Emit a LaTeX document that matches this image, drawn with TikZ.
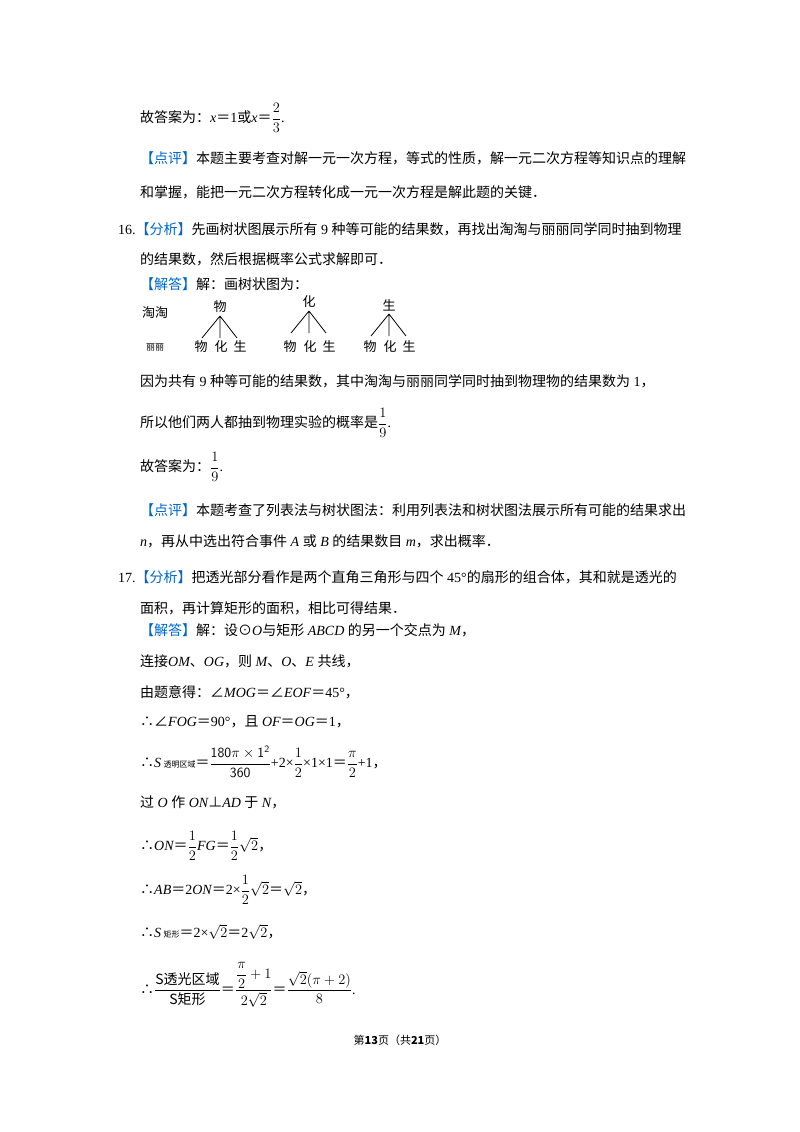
\documentclass[tikz,border=0pt]{standalone}
\usepackage{amsmath}
\usepackage{fontspec}
\setmainfont{Noto Sans CJK SC}
\newfontfamily\ser{Liberation Serif}
\newcommand{\mi}[1]{{\ser\itshape #1}}
\newcommand{\mr}[1]{{\ser #1}}
\definecolor{hb}{RGB}{0,102,204}
\newcommand{\hb}[1]{\textcolor{hb}{【#1】}}
\begin{document}
\begin{tikzpicture}[x=1pt,y=-1pt,
  txt/.style={anchor=west,inner sep=0pt,font=\fontsize{14}{16}\selectfont},
  tw/.style={inner sep=0pt,font=\fontsize{13}{15}\selectfont},
  br/.style={line width=0.8pt}]
\useasboundingbox (0,0) rectangle (800,1132);
\node[txt] (a1) at (140,118) {故答案为：\mi{x}＝\mr{1}或\mi{x}＝$\dfrac{2}{3}$\mr{.}};
\node[txt] (a2) at (140,158) {\hb{点评}本题主要考查对解一元一次方程，等式的性质，解一元二次方程等知识点的理解};
\node[txt] (a3) at (140,192) {和掌握，能把一元二次方程转化成一元一次方程是解此题的关键．};
\node[txt] (a4) at (118,229) {\mr{16.}\hb{分析}先画树状图展示所有\mr{ 9 }种等可能的结果数，再找出淘淘与丽丽同学同时抽到物理};
\node[txt] (a5) at (140,259) {的结果数，然后根据概率公式求解即可．};
\node[txt] (a6) at (140,284) {\hb{解答}解：画树状图为：};
\node[tw] (tt) at (155,313) {淘淘};
\node[tw,font=\fontsize{9}{10}\selectfont] (ll) at (155,347) {丽丽};
\foreach \r/\x/\y in {p/220/307,h/309/302,s/389/305}{
  \node[tw] (\r) at (\x,\y) {};
  \node[tw] (\r a) at (\x-19,347) {物};
  \node[tw] (\r b) at (\x+1,347) {化};
  \node[tw] (\r c) at (\x+20,346) {生};
  \draw[br] (\x,\y+9) -- (\x-18,\y+31) (\x,\y+9) -- (\x,\y+31) (\x,\y+9) -- (\x+17,\y+31);
}
\node[tw] at (p) {物};\node[tw] at (h) {化};\node[tw] at (s) {生};
\node[txt] (b1) at (140,381) {因为共有\mr{ 9 }种等可能的结果数，其中淘淘与丽丽同学同时抽到物理物的结果数为\mr{ 1}，};
\node[txt] (b2) at (140,423) {所以他们两人都抽到物理实验的概率是$\dfrac{1}{9}$\mr{.}};
\node[txt] (b3) at (140,467) {故答案为：$\dfrac{1}{9}$\mr{.}};
\node[txt] (b4) at (140,510) {\hb{点评}本题考查了列表法与树状图法：利用列表法和树状图法展示所有可能的结果求出};
\node[txt] (b5) at (140,541) {\mi{n}，再从中选出符合事件\mi{ A }或\mi{ B }的结果数目\mi{ m}，求出概率．};
\node[txt] (c1) at (118,577) {\mr{17.}\hb{分析}把透光部分看作是两个直角三角形与四个\mr{ 45°}的扇形的组合体，其和就是透光的};
\node[txt] (c2) at (140,608) {面积，再计算矩形的面积，相比可得结果．};
\node[txt] (c3) at (140,630) {\hb{解答}解：设⊙\mi{O}与矩形\mi{ ABCD }的另一个交点为\mi{ M}，};
\node[txt] (c4) at (140,661) {连接\mi{OM}、\mi{OG}，则\mi{ M}、\mi{O}、\mi{E }共线，};
\node[txt] (c5) at (140,692) {由题意得：∠\mi{MOG}＝∠\mi{EOF}＝\mr{45°}，};
\node[txt] (c6) at (140,722) {∴∠\mi{FOG}＝\mr{90°}，且\mi{ OF}＝\mi{OG}＝\mr{1}，};
\node[txt] (c7) at (140,762) {∴\mi{S}\,{\fontsize{8}{9}\selectfont 透明区域}＝$\dfrac{\mathsf{180\pi\times 1^2}}{\mathsf{360}}$\mr{+2×}$\dfrac{1}{2}$\mr{×1×1}＝$\dfrac{\pi}{2}$\mr{+1}，};
\node[txt] (c8) at (140,802) {过\mi{ O }作\mi{ ON}⊥\mi{AD }于\mi{ N}，};
\node[txt] (c9) at (140,846) {∴\mi{ON}＝$\dfrac{1}{2}$\mi{FG}＝$\dfrac{1}{2}\sqrt{2}$，};
\node[txt] (c10) at (140,890) {∴\mi{AB}＝\mr{2}\mi{ON}＝\mr{2×}$\dfrac{1}{2}\sqrt{2}$＝$\sqrt{2}$，};
\node[txt] (c11) at (140,932) {∴\mi{S}\,{\fontsize{8}{9}\selectfont 矩形}＝\mr{2×}$\sqrt{2}$＝\mr{2}$\sqrt{2}$，};
\node[txt] (c12) at (140,985) {∴$\dfrac{\hbox{S透光区域}}{\hbox{S矩形}}$＝$\dfrac{\dfrac{\pi}{2}+1}{2\sqrt{2}}$＝$\dfrac{\sqrt{2}(\pi+2)}{8}$\mr{.}};
\node[inner sep=0pt,font=\fontsize{11}{13}\selectfont] (ft) at (400,1040) {第\textbf{13}页（共\textbf{21}页）};
\end{tikzpicture}
\end{document}
